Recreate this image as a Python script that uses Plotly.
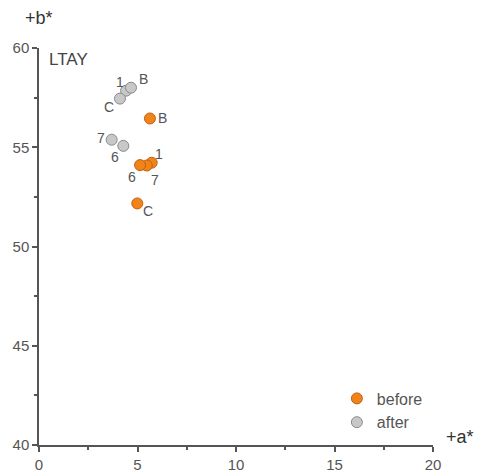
import plotly.graph_objects as go

labels_before = ["B", "1", "7", "6", "C"]
a_before = [5.63, 5.72, 5.47, 5.13, 4.99]
b_before = [56.45, 54.22, 54.08, 54.1, 52.17]

labels_after = ["1", "B", "C", "7", "6"]
a_after = [4.42, 4.67, 4.11, 3.69, 4.28]
b_after = [57.85, 58.0, 57.45, 55.38, 55.07]

x_ticks = [0, 5, 10, 15, 20]
y_ticks = [40, 45, 50, 55, 60]

# label offsets in pixels (style only)
shift_before = [(13, 0), (7, 9), (8, -14), (-8, -12), (11, -8)]
shift_after = [(-6, 9), (12, 9), (-11, -8), (-11, 2), (-8, -11)]

FONT = "Liberation Sans, Arial"
fig = go.Figure()
fig.add_trace(go.Scatter(
    x=a_before, y=b_before, mode="markers", name="before", legendgroup="b",
    marker=dict(size=11, color="#F08418", line=dict(color="#C06010", width=1)),
))
fig.add_trace(go.Scatter(
    x=a_after, y=b_after, mode="markers", name="after", legendgroup="a",
    marker=dict(size=11, color="#C8C8C8", line=dict(color="#8A8A8A", width=1)),
))

annotations = []
for xs, ys, ls, sh in [(a_before, b_before, labels_before, shift_before),
                       (a_after, b_after, labels_after, shift_after)]:
    for x, y, l, (dx, dy) in zip(xs, ys, ls, sh):
        annotations.append(dict(x=x, y=y, text=l, showarrow=False, xshift=dx, yshift=dy,
                                font=dict(family=FONT, size=14, color="#555555")))

annotations += [
    dict(text="+b*", xref="paper", yref="paper", x=0.0, y=1.045, xanchor="center",
         yanchor="bottom", showarrow=False, font=dict(family=FONT, size=18, color="#333333")),
    dict(text="+a*", xref="paper", yref="paper", x=1.028, y=-0.01, xanchor="left",
         yanchor="bottom", showarrow=False, font=dict(family=FONT, size=18, color="#333333")),
    dict(text="LTAY", xref="paper", yref="paper", x=0.02, y=1.0, xanchor="left",
         yanchor="top", showarrow=False, font=dict(family=FONT, size=17, color="#444444")),
]

axis_common = dict(
    showgrid=False, zeroline=False, showline=True, linecolor="#555555", linewidth=1.5,
    ticks="outside", ticklen=5, tickwidth=1.5, tickcolor="#555555", automargin=False,
    tickfont=dict(family=FONT, size=15, color="#555555"),
    minor=dict(ticks="outside", ticklen=3, tickwidth=1.5, tickcolor="#555555", dtick=2.5),
)
fig.update_xaxes(range=[0, 20], tickvals=x_ticks, **axis_common)
fig.update_yaxes(range=[40, 60], tickvals=y_ticks, **axis_common)

fig.update_layout(
    width=479, height=474,
    margin=dict(l=39, r=46, t=48, b=29),
    plot_bgcolor="white", paper_bgcolor="white",
    font=dict(family=FONT, color="#555555"),
    showlegend=True,
    legend=dict(x=0.756, y=0.16, xanchor="left", yanchor="top",
                font=dict(family=FONT, size=16, color="#555555"), bgcolor="rgba(0,0,0,0)",
                tracegroupgap=0, traceorder="grouped"),
    annotations=annotations,
)

fig.write_html("out.html")
